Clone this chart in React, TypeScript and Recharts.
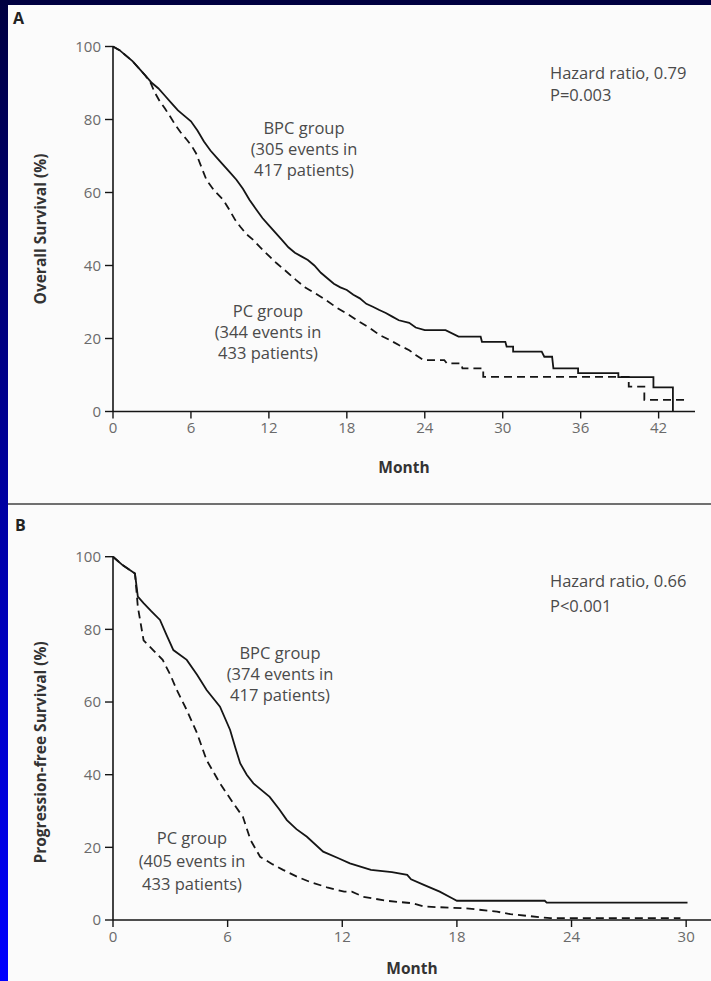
import React from "react";
import { LineChart, Line, XAxis, YAxis, Label } from "recharts";

// Kaplan-Meier readings: [month, survival %]; repeated months mark the drops
const OS_BPC: [number, number][] = [
  [0, 100], [0.5, 99], [1, 97.5], [1.5, 96], [2, 94], [2.5, 92], [3, 90],
  [3.5, 88.5], [4, 86.5], [4.5, 84.5], [5, 82.5], [5.5, 81], [6, 79.5],
  [6.5, 77], [7, 74], [7.5, 71.5], [8, 69.5], [8.5, 67.5], [9, 65.5],
  [9.5, 63.5], [10, 61], [10.5, 58], [11, 55.5], [11.5, 53], [12, 51],
  [12.5, 49], [13, 47], [13.5, 45], [14, 43.5], [14.5, 42.5], [15, 41.5],
  [15.5, 40], [16, 38], [16.5, 36.5], [17, 35], [17.5, 34], [18, 33.3],
  [18.5, 32], [19, 31], [19.5, 29.5], [20, 28.7], [20.5, 27.8], [21, 27],
  [21.5, 26], [22, 25], [22.8, 24.3], [23.3, 23], [24, 22.3], [25.6, 22.3],
  [26.6, 20.5], [28.3, 20.5], [28.4, 19.1], [30.2, 19.1], [30.3, 17.8],
  [30.8, 17.8], [30.8, 16.4], [33, 16.4], [33.2, 15], [33.8, 15],
  [33.9, 11.8], [35.8, 11.8], [35.8, 10.5], [38.9, 10.5], [38.9, 9.4],
  [41.6, 9.4], [41.6, 6.6], [43.1, 6.6], [43.1, 0],
];

const OS_PC: [number, number][] = [
  [0, 100], [0.5, 99], [1, 97.5], [1.5, 96], [2, 94], [2.5, 92], [2.9, 90],
  [3.2, 87.5], [3.6, 85], [4, 83], [4.4, 80.8], [4.8, 78.5], [5.2, 76.5],
  [5.7, 74.4], [6.1, 72.5], [6.4, 70.7], [6.8, 67], [7.2, 63.4], [7.8, 60.5],
  [8.5, 57.9], [9, 55], [9.4, 52.5], [9.8, 50.6], [10.3, 48.5], [10.8, 47],
  [11.3, 45.1], [11.9, 43], [12.6, 40.6], [13.3, 38.5], [14.1, 36],
  [14.8, 34], [15.6, 32.3], [16.4, 30.5], [17.2, 28.5], [18.2, 26.4],
  [19, 24.5], [19.8, 22.8], [20.5, 21], [21.3, 19.6], [22, 18.2],
  [22.8, 16.8], [23.3, 15.5], [23.9, 14.1], [25.5, 14.1], [25.7, 13.2],
  [26.8, 13.2], [26.9, 11.8], [28.5, 11.8], [28.5, 9.5], [39.7, 9.5],
  [39.7, 6.8], [40.9, 6.8], [40.9, 3.2], [44.1, 3.2],
];

const PFS_BPC: [number, number][] = [
  [0, 100], [0.5, 97.7], [1.15, 95.4], [1.3, 89], [1.6, 87.2], [2, 85],
  [2.46, 82.6], [2.8, 78.5], [3.16, 74.3], [3.86, 71.6], [4.4, 67.5],
  [4.9, 63.3], [5.6, 58.7], [6.13, 52.3], [6.4, 47.5], [6.66, 43.1],
  [7, 40], [7.35, 37.6], [8.2, 33.9], [8.7, 30.5], [9.1, 27.5], [9.6, 25],
  [10.15, 22.9], [11, 18.8], [11.8, 17], [12.4, 15.6], [13.5, 13.8],
  [14.6, 13.2], [15.4, 12.4], [15.6, 11.2], [16.3, 9.6], [17.1, 7.8],
  [17.75, 6], [18, 5.3], [22.6, 5.3], [22.7, 4.8], [30.07, 4.8],
];

const PFS_PC: [number, number][] = [
  [0, 100], [0.5, 97.7], [1.15, 95.4], [1.3, 86.2], [1.6, 77], [2.1, 74.3],
  [2.6, 71.6], [3, 67.5], [3.34, 63.3], [3.86, 57.8], [4.4, 51.4],
  [4.9, 44], [5.6, 37.6], [6.3, 32.1], [6.8, 28.4], [7.2, 22], [7.7, 17.4],
  [8.3, 15.5], [8.9, 13.8], [9.6, 12], [10.3, 10.5], [11.2, 9], [12.1, 7.8],
  [12.5, 7.8], [13.1, 6.4], [14.3, 5.3], [15.7, 4.6], [16.3, 3.7],
  [18.5, 3.2], [20.1, 2.3], [20.8, 1.6], [22.9, 0.5], [29.7, 0.5],
];

const OS_X_TICKS = [0, 6, 12, 18, 24, 30, 36, 42];
const PFS_X_TICKS = [0, 6, 12, 18, 24, 30];
const Y_TICKS = [0, 20, 40, 60, 80, 100];

const FONT = "'Open Sans', sans-serif";
const INK = "#151515";

const toRows = (pts: [number, number][]) =>
  pts.map(([month, value]) => ({ month, value }));

// rotated axis title, nudged vertically when the original sits off-centre
const YTitle = ({ viewBox, value, shift }: any) => {
  const cx = viewBox.x - 13;
  const cy = viewBox.y + viewBox.height / 2 + shift;
  return (
    <text
      x={cx}
      y={cy}
      transform={`rotate(-90, ${cx}, ${cy})`}
      textAnchor="middle"
      dominantBaseline="central"
      fontFamily={FONT}
      fontSize={15.5}
      fontWeight={700}
      fill="#333"
    >
      {value}
    </text>
  );
};

interface PanelProps {
  top: number;
  height: number;
  margin: { top: number; right: number; bottom: number; left: number };
  xMax: number;
  xTicks: number[];
  yTitle: string;
  titleShift: number;
  monthOffset: number;
  bpc: [number, number][];
  pc: [number, number][];
}

const KMPanel: React.FC<PanelProps> = ({
  top,
  height,
  margin,
  xMax,
  xTicks,
  yTitle,
  titleShift,
  monthOffset,
  bpc,
  pc,
}) => {
  const tick = { fill: "#6a6a6a", fontSize: 15, fontFamily: FONT };
  return (
    <div style={{ position: "absolute", left: 0, top, width: 711, height }}>
      <LineChart width={711} height={height} margin={margin}>
        <XAxis
          type="number"
          dataKey="month"
          domain={[0, xMax]}
          ticks={xTicks}
          interval={0}
          allowDataOverflow
          tickSize={7}
          tickMargin={4}
          height={30}
          tick={tick}
          axisLine={{ stroke: INK, strokeWidth: 1.6 }}
          tickLine={{ stroke: INK, strokeWidth: 1.4 }}
        >
          <Label
            value="Month"
            position="bottom"
            offset={monthOffset}
            style={{ fontFamily: FONT, fontSize: 15.5, fontWeight: 700, fill: "#333" }}
          />
        </XAxis>
        <YAxis
          type="number"
          domain={[0, 100]}
          ticks={Y_TICKS}
          interval={0}
          width={60}
          tickSize={8}
          tickMargin={4}
          tick={tick}
          axisLine={{ stroke: INK, strokeWidth: 1.6 }}
          tickLine={{ stroke: INK, strokeWidth: 1.4 }}
        >
          <Label
            content={(props: any) => (
              <YTitle viewBox={props.viewBox} value={yTitle} shift={titleShift} />
            )}
          />
        </YAxis>
        <Line
          data={toRows(pc)}
          dataKey="value"
          type="linear"
          stroke={INK}
          strokeWidth={1.8}
          strokeDasharray="8 5"
          dot={false}
          isAnimationActive={false}
        />
        <Line
          data={toRows(bpc)}
          dataKey="value"
          type="linear"
          stroke={INK}
          strokeWidth={1.8}
          dot={false}
          isAnimationActive={false}
        />
      </LineChart>
    </div>
  );
};

const Note: React.FC<{ x: number; y: number; lines: string[]; gap: number; anchor?: "start" | "middle" }> = ({
  x,
  y,
  lines,
  gap,
  anchor = "middle",
}) => (
  <g>
    {lines.map((t, i) => (
      <text
        key={i}
        x={x}
        y={y + i * gap}
        textAnchor={anchor}
        dominantBaseline="central"
        fontFamily={FONT}
        fontSize={16.5}
        fill="#4a4a4a"
      >
        {t}
      </text>
    ))}
  </g>
);

export default function App() {
  return (
    <div
      style={{
        position: "absolute",
        left: 0,
        top: 0,
        width: 711,
        height: 981,
        background: "linear-gradient(#000040, #0000ff)",
        overflow: "hidden",
      }}
    >
      <div
        style={{
          position: "absolute",
          left: 8,
          top: 5,
          width: 703,
          height: 976,
          background: "#fbfbfb",
        }}
      />
      <KMPanel
        top={0}
        height={500}
        margin={{ top: 46.5, right: 16, bottom: 58.5, left: 53 }}
        xMax={44.8}
        xTicks={OS_X_TICKS}
        yTitle="Overall Survival (%)"
        titleShift={0}
        monthOffset={20}
        bpc={OS_BPC}
        pc={OS_PC}
      />
      <KMPanel
        top={500}
        height={481}
        margin={{ top: 56.7, right: 0, bottom: 31, left: 53 }}
        xMax={31.3}
        xTicks={PFS_X_TICKS}
        yTitle="Progression-free Survival (%)"
        titleShift={14}
        monthOffset={13}
        bpc={PFS_BPC}
        pc={PFS_PC}
      />
      <svg
        width={711}
        height={981}
        style={{ position: "absolute", left: 0, top: 0, pointerEvents: "none" }}
      >
        <line x1={8} x2={711} y1={504} y2={504} stroke="#707070" strokeWidth={2} />
        <text x={13} y={18} dominantBaseline="central" fontFamily={FONT} fontSize={16} fontWeight={700} fill="#222">
          A
        </text>
        <text x={15} y={525} dominantBaseline="central" fontFamily={FONT} fontSize={16} fontWeight={700} fill="#222">
          B
        </text>
        <Note x={550} y={72} gap={22} anchor="start" lines={["Hazard ratio, 0.79", "P=0.003"]} />
        <Note x={304} y={127} gap={21} lines={["BPC group", "(305 events in", "417 patients)"]} />
        <Note x={268} y={310} gap={21} lines={["PC group", "(344 events in", "433 patients)"]} />
        <Note x={550} y={580} gap={25} anchor="start" lines={["Hazard ratio, 0.66", "P<0.001"]} />
        <Note x={280} y={652} gap={21} lines={["BPC group", "(374 events in", "417 patients)"]} />
        <Note x={192} y={837} gap={23} lines={["PC group", "(405 events in", "433 patients)"]} />
      </svg>
    </div>
  );
}
